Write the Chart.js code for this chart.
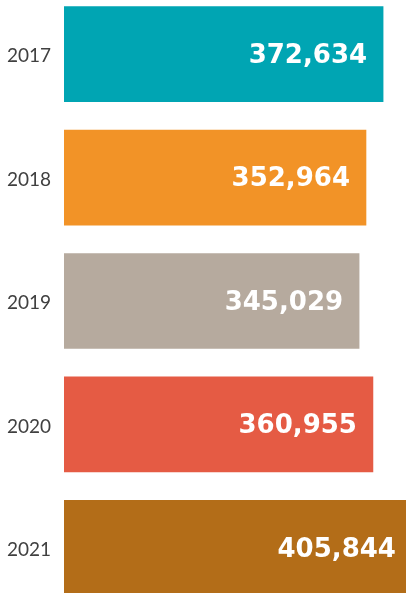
<!DOCTYPE html>
<html>
<head>
<meta charset="utf-8">
<script src="https://cdn.jsdelivr.net/npm/chart.js@4/dist/chart.umd.min.js"></script>
<style>
  html, body { margin: 0; padding: 0; background: #ffffff; overflow: hidden; width: 406px; height: 593px; }
  #wrap { position: absolute; left: 0; top: -32px; width: 406px; height: 666px; }
</style>
</head>
<body>
<div id="wrap"><canvas id="c" width="406" height="666"></canvas></div>
<script>
const years = ["2017", "2018", "2019", "2020", "2021"];
const totals = [372634, 352964, 345029, 360955, 405844];
const barColors = ["#00A5B3", "#F29327", "#B6AA9E", "#E55B44", "#B36D18"];

const valueLabels = {
  id: 'valueLabels',
  afterDatasetsDraw(chart) {
    const ctx = chart.ctx;
    const meta = chart.getDatasetMeta(0);
    ctx.save();
    ctx.font = 'bold 26px "DejaVu Sans"';
    ctx.fillStyle = '#ffffff';
    ctx.textAlign = 'right';
    ctx.textBaseline = 'middle';
    meta.data.forEach((bar, i) => {
      ctx.fillText(totals[i].toLocaleString('en-US'), bar.x - 16, bar.y + 2);
    });
    ctx.restore();
  }
};

new Chart(document.getElementById('c'), {
  type: 'bar',
  data: {
    labels: years,
    datasets: [{
      data: totals,
      backgroundColor: barColors,
      borderWidth: 0,
      barThickness: 95
    }]
  },
  options: {
    indexAxis: 'y',
    responsive: false,
    animation: false,
    devicePixelRatio: 1,
    layout: { padding: 0 },
    plugins: { legend: { display: false }, tooltip: { enabled: false } },
    scales: {
      x: {
        display: false,
        min: 5500,
        max: 399000
      },
      y: {
        afterFit(scale) { scale.width = 64; },
        grid: { display: false, drawTicks: false },
        border: { display: false },
        ticks: {
          padding: 13,
          labelOffset: 2,
          color: '#404040',
          font: { family: 'Lato', size: 19, weight: '400' }
        }
      }
    }
  },
  plugins: [valueLabels]
});
</script>
</body>
</html>
